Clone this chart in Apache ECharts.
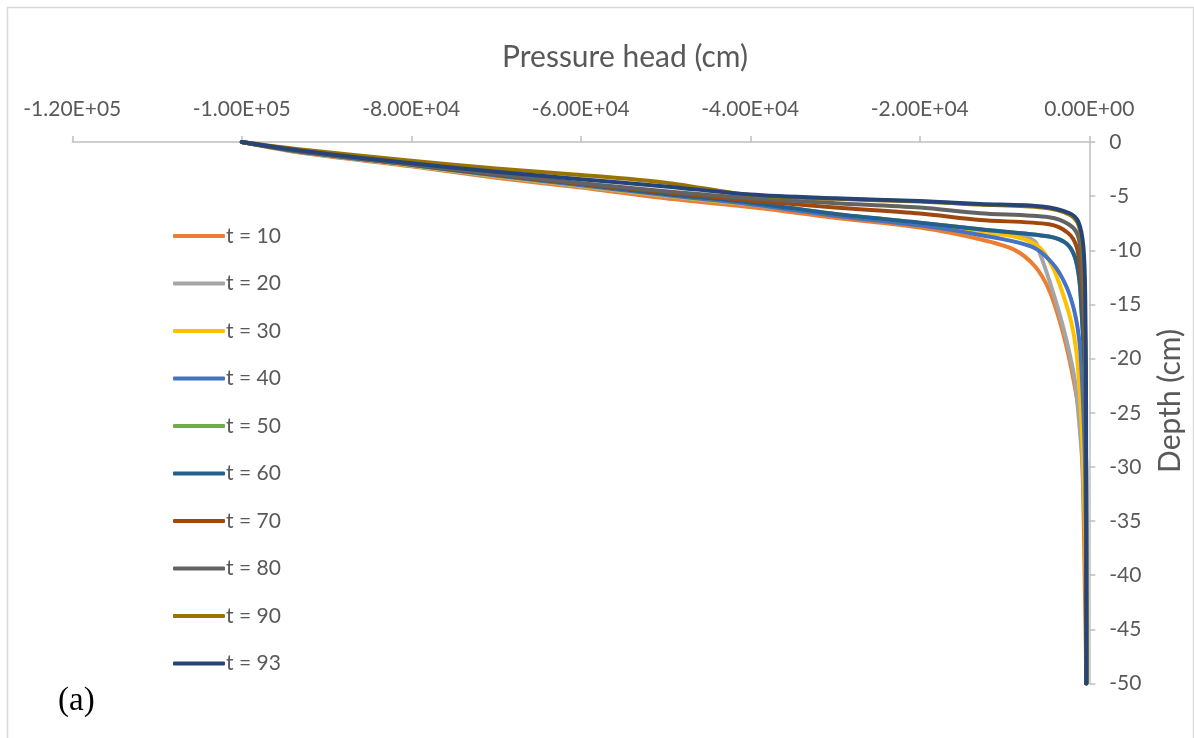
<!DOCTYPE html>
<html>
<head>
<meta charset="utf-8">
<title>Pressure head profiles</title>
<script src="https://cdn.jsdelivr.net/npm/echarts@6/dist/echarts.min.js"></script>
<style>
  html, body { margin: 0; padding: 0; background: #ffffff; }
  #chart { width: 1194px; height: 738px; }
</style>
</head>
<body>
<div id="chart"></div>
<script>
// Pressure head (cm) vs depth (cm) profiles at successive times
const seriesNames = ['t = 10', 't = 20', 't = 30', 't = 40', 't = 50', 't = 60', 't = 70', 't = 80', 't = 90', 't = 93'];
const seriesColors = ['#ED7D31', '#A5A5A5', '#FFC000', '#4472C4', '#70AD47', '#255E91', '#9E480E', '#636363', '#997300', '#264478'];

// Each profile: [pressure head, depth]
const t10 = [[-100000, 0], [-93000, -1.0], [-80000, -2.25], [-70000, -3.3], [-60000, -4.2], [-50000, -5.2], [-40000, -6.0], [-30000, -7.0], [-20000, -7.9], [-12900, -8.98], [-8830, -9.96], [-6390, -11.5], [-4750, -13.65], [-3540, -16.4], [-2510, -19.5], [-1710, -22.6], [-1100, -25.6], [-800, -30], [-550, -40], [-350, -50]];
const t20 = [[-100000, 0], [-93000, -0.95], [-80000, -2.2], [-70000, -3.2], [-60000, -4.1], [-50000, -5.0], [-40000, -5.8], [-30000, -6.75], [-20000, -7.65], [-12900, -8.3], [-8000, -8.73], [-6390, -9.2], [-5780, -10.4], [-4750, -12.7], [-3540, -15.8], [-2510, -18.9], [-1710, -22], [-1300, -25], [-800, -30], [-450, -38], [-350, -50]];
const t30 = [[-100000, 0], [-93000, -0.9], [-80000, -2.15], [-70000, -3.15], [-60000, -4.05], [-50000, -4.95], [-40000, -5.75], [-30000, -6.7], [-20000, -7.6], [-12900, -8.37], [-8830, -8.73], [-5980, -9.66], [-4350, -11.5], [-3130, -14], [-2110, -16.7], [-1500, -19.5], [-1100, -23.5], [-700, -30], [-400, -40], [-350, -50]];
const t40 = [[-100000, 0], [-93000, -0.9], [-80000, -2.1], [-70000, -3.1], [-60000, -4.0], [-50000, -4.9], [-40000, -5.75], [-30000, -6.8], [-20000, -7.7], [-12900, -8.58], [-6800, -9.66], [-4350, -11.2], [-2730, -13.3], [-1710, -15.8], [-1100, -18.9], [-770, -23.5], [-500, -30], [-380, -40], [-350, -50]];
const t50 = [[-100000, 0], [-93000, -0.9], [-80000, -2.1], [-70000, -3.05], [-60000, -3.9], [-50000, -4.8], [-40000, -5.6], [-30000, -6.65], [-20000, -7.45], [-12900, -8.06], [-4750, -8.73], [-2730, -9.35], [-1710, -10.6], [-1180, -12.7], [-900, -15.8], [-500, -22], [-380, -30], [-350, -50]];
const t60 = [[-100000, 0], [-93000, -0.9], [-80000, -2.1], [-70000, -3.05], [-60000, -3.9], [-50000, -4.8], [-40000, -5.6], [-30000, -6.65], [-20000, -7.45], [-12900, -8.06], [-4750, -8.73], [-2730, -9.35], [-1710, -10.6], [-1180, -12.7], [-900, -15.8], [-500, -22], [-380, -30], [-350, -50]];
const t70 = [[-100000, 0], [-93000, -0.85], [-80000, -2.05], [-70000, -3.0], [-60000, -3.85], [-50000, -4.65], [-40000, -5.4], [-30000, -6.05], [-20000, -6.6], [-12900, -7.2], [-4750, -7.6], [-2510, -8.4], [-1500, -9.66], [-1015, -12.1], [-700, -15.8], [-470, -22], [-380, -30], [-350, -50]];
const t80 = [[-100000, 0], [-93000, -0.85], [-80000, -2.05], [-70000, -2.95], [-60000, -3.8], [-50000, -4.55], [-40000, -5.2], [-30000, -5.65], [-20000, -6.05], [-12900, -6.58], [-4750, -6.95], [-2310, -7.66], [-1300, -8.73], [-900, -11.2], [-650, -15], [-450, -22], [-380, -30], [-350, -50]];
const t90 = [[-100000, 0], [-93000, -0.7], [-80000, -1.72], [-70000, -2.45], [-60000, -3.04], [-50000, -3.75], [-40000, -4.9], [-30000, -5.25], [-20000, -5.5], [-12900, -5.78], [-5580, -6.05], [-2310, -6.7], [-1300, -7.6], [-800, -9.8], [-560, -14], [-400, -25], [-350, -50]];
const t93 = [[-100000, 0], [-93000, -0.8], [-80000, -1.97], [-70000, -2.75], [-60000, -3.44], [-50000, -4.1], [-40000, -4.85], [-30000, -5.2], [-20000, -5.45], [-12900, -5.72], [-5580, -5.96], [-2310, -6.58], [-1300, -7.35], [-700, -9.66], [-480, -14.3], [-380, -25], [-350, -50]];
const profiles = [t10, t20, t30, t40, t50, t60, t70, t80, t90, t93];

// Axis ranges and tick steps
const xMin = -120000, xMax = 0, xStep = 20000;
const yMin = -50, yMax = 0, yStep = 5;

function sciLabel(v) {
  if (v === 0) return '0.00E+00';
  const s = v.toExponential(2).toUpperCase();
  const m = s.match(/^(-?[\d.]+)E([+-])(\d+)$/);
  return m[1] + 'E' + m[2] + (m[3].length < 2 ? '0' + m[3] : m[3]);
}

const textColor = '#595959';
const axisColor = '#bfbfbf';
const uiFont = 'Lato, "Open Sans", sans-serif';

const chart = echarts.init(document.getElementById('chart'));
chart.setOption({
  animation: false,
  backgroundColor: '#ffffff',
  grid: { left: 72.3, right: 1194 - 1089.3, top: 142, bottom: 738 - 683.5, containLabel: false },
  legend: {
    orient: 'vertical',
    left: 168,
    top: 219,
    icon: 'roundRect',
    itemWidth: 52,
    itemHeight: 4,
    itemGap: 23.5,
    data: seriesNames,
    textStyle: { color: textColor, fontSize: 21, lineHeight: 24, fontFamily: uiFont, padding: [0, 0, 0, -4] }
  },
  xAxis: {
    type: 'value',
    position: 'top',
    min: xMin, max: xMax, interval: xStep,
    axisLine: { show: true, lineStyle: { color: axisColor, width: 1.5 } },
    axisTick: { show: true, length: 6, lineStyle: { color: axisColor, width: 1.5 } },
    splitLine: { show: false },
    axisLabel: { color: textColor, fontSize: 21, fontFamily: uiFont, margin: 22, formatter: sciLabel }
  },
  yAxis: {
    type: 'value',
    position: 'right',
    min: yMin, max: yMax, interval: yStep,
    axisLine: { show: true, lineStyle: { color: axisColor, width: 1.5 } },
    axisTick: { show: true, length: 6, lineStyle: { color: axisColor, width: 1.5 } },
    splitLine: { show: false },
    axisLabel: { color: textColor, fontSize: 21, fontFamily: uiFont, margin: 20, align: 'left' }
  },
  graphic: [
    { type: 'rect', silent: true, z: -10, shape: { x: 7.5, y: 7.5, width: 1186, height: 740 }, style: { fill: 'none', stroke: '#d9d9d9', lineWidth: 1.5 } },
    { type: 'text', x: 625, y: 57, style: { text: 'Pressure head (cm)', fill: textColor, font: '30px ' + uiFont, textAlign: 'center', textVerticalAlign: 'middle' } },
    { type: 'text', x: 1170, y: 401, rotation: Math.PI / 2, style: { text: 'Depth (cm)', fill: textColor, font: '30px ' + uiFont, textAlign: 'center', textVerticalAlign: 'middle' } },
    { type: 'text', x: 58, y: 701, style: { text: '(a)', fill: '#000000', font: '33px "Liberation Serif", "DejaVu Serif", serif', textAlign: 'left', textVerticalAlign: 'middle' } }
  ],
  series: profiles.map((data, i) => ({
    name: seriesNames[i],
    type: 'line',
    data: data,
    showSymbol: false,
    symbol: 'none',
    smooth: 0.3,
    color: seriesColors[i],
    lineStyle: { color: seriesColors[i], width: 4, cap: 'round', join: 'round' }
  }))
});
</script>
</body>
</html>
